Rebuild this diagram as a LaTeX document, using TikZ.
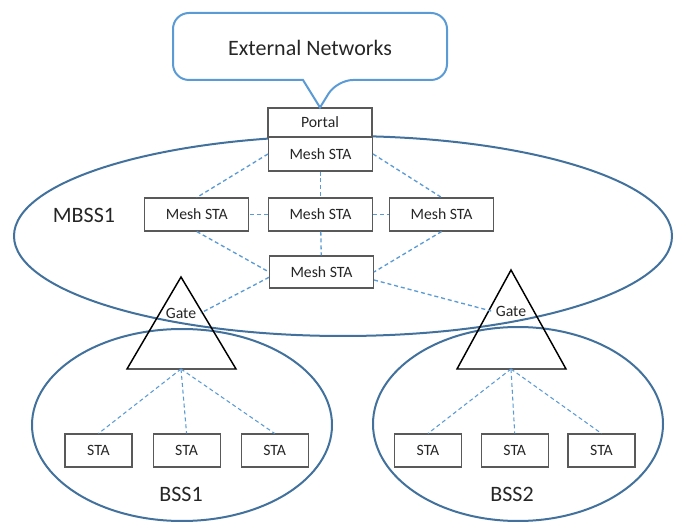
\documentclass[tikz,border=0pt]{standalone}
\usepackage{fontspec}
\setmainfont{Carlito}
\usetikzlibrary{positioning}

\definecolor{meshblue}{HTML}{5B9BD5}
\definecolor{bssblue}{HTML}{41719C}
\definecolor{boxgray}{HTML}{595959}

\begin{document}
\begin{tikzpicture}[
		x=0.75pt, y=-0.75pt,
		font=\fontsize{11.8}{13}\selectfont,
		every node/.style={text=black!85},
		box/.style={draw=boxgray, line width=0.8pt, fill=white, inner sep=0pt, minimum width=78pt, minimum height=24.75pt},
		stabox/.style={box, minimum width=50.25pt},
		link/.style={draw=meshblue, line width=1pt, dash pattern=on 3pt off 2.2pt},
		bss/.style={draw=bssblue, line width=1.5pt},
		gatetri/.style={draw=black, line width=1.1pt, line join=miter},
		biglabel/.style={font=\fontsize{16.5}{18}\selectfont}
	]
	\useasboundingbox (0,0) rectangle (681,523);

	% basic service sets
	\draw[bss] (343,236) ellipse [x radius=329, y radius=100];
	\draw[bss] (182,425) ellipse [x radius=150, y radius=96];
	\draw[bss] (518,424) ellipse [x radius=145, y radius=97];

	\node[biglabel] (mbss) at (84,215) {MBSS1};
	\node[biglabel] (bssa) at (181,494) {BSS1};
	\node[biglabel] (bssb) at (512,494) {BSS2};

	% mesh
	\node[box, minimum height=21.75pt] (portal) at (320,122.5) {Portal};
	\node[box, minimum height=25.5pt] (mtop) at (320.5,154) {Mesh STA};
	\node[box] (mmid) at (320.5,214.5) {Mesh STA};
	\node[box, left=14pt of mmid] (mleft) {Mesh STA};
	\node[box, right=12pt of mmid] (mright) {Mesh STA};
	\node[box, minimum height=24pt] (mbot) at (321.5,272) {Mesh STA};

	% external networks
	\node[biglabel] (ext) at (310,48) {External Networks};
	\draw[draw=meshblue, line width=1.5pt, rounded corners=12] (303,80) -- (173,80) -- (173,13) -- (447,13) -- (447,80) -- (337,80) [sharp corners] -- (portal.north) -- cycle;

	% gates
	\node (gatea) at (181,313) {Gate};
	\node (gateb) at (511,311) {Gate};
	\coordinate (gabase) at (181,369);
	\coordinate (gbbase) at (511,369);
	\draw[gatetri] (181,277) -- (236,369) -- (127,369) -- cycle;
	\draw[gatetri] (511,270) -- (566,369) -- (457,369) -- cycle;

	% stations
	\node[stabox] (staa) at (98.5,450.5) {STA};
	\node[stabox, right=15pt of staa] (stab) {STA};
	\node[stabox, right=15pt of stab] (stac) {STA};
	\node[stabox] (stad) at (428,450.5) {STA};
	\node[stabox, right=14pt of stad] (stae) {STA};
	\node[stabox, right=14pt of stae] (staf) {STA};

	% links
	\draw[link] (mtop.west) -- (mleft.north);
	\draw[link] (mtop.east) -- (mright.north);
	\draw[link] (mtop) -- (mmid);
	\draw[link] (mmid) -- (mleft);
	\draw[link] (mmid) -- (mright);
	\draw[link] (mmid) -- (mbot);
	\draw[link] (mleft.south) -- (mbot.west);
	\draw[link] (mright.south) -- (mbot.east);
	\draw[link] ([yshift=-4pt]mbot.west) -- (gatea.east);
	\draw[link] ([yshift=-6pt]mbot.east) -- (gateb.west);

	\draw[link, line width=0.8pt] (gabase) -- (staa.north);
	\draw[link, line width=0.8pt] (gabase) -- (stab.north);
	\draw[link, line width=0.8pt] (gabase) -- (stac.north);
	\draw[link, line width=0.8pt] (gbbase) -- (stad.north);
	\draw[link, line width=0.8pt] (gbbase) -- (stae.north);
	\draw[link, line width=0.8pt] (gbbase) -- (staf.north);
\end{tikzpicture}
\end{document}
